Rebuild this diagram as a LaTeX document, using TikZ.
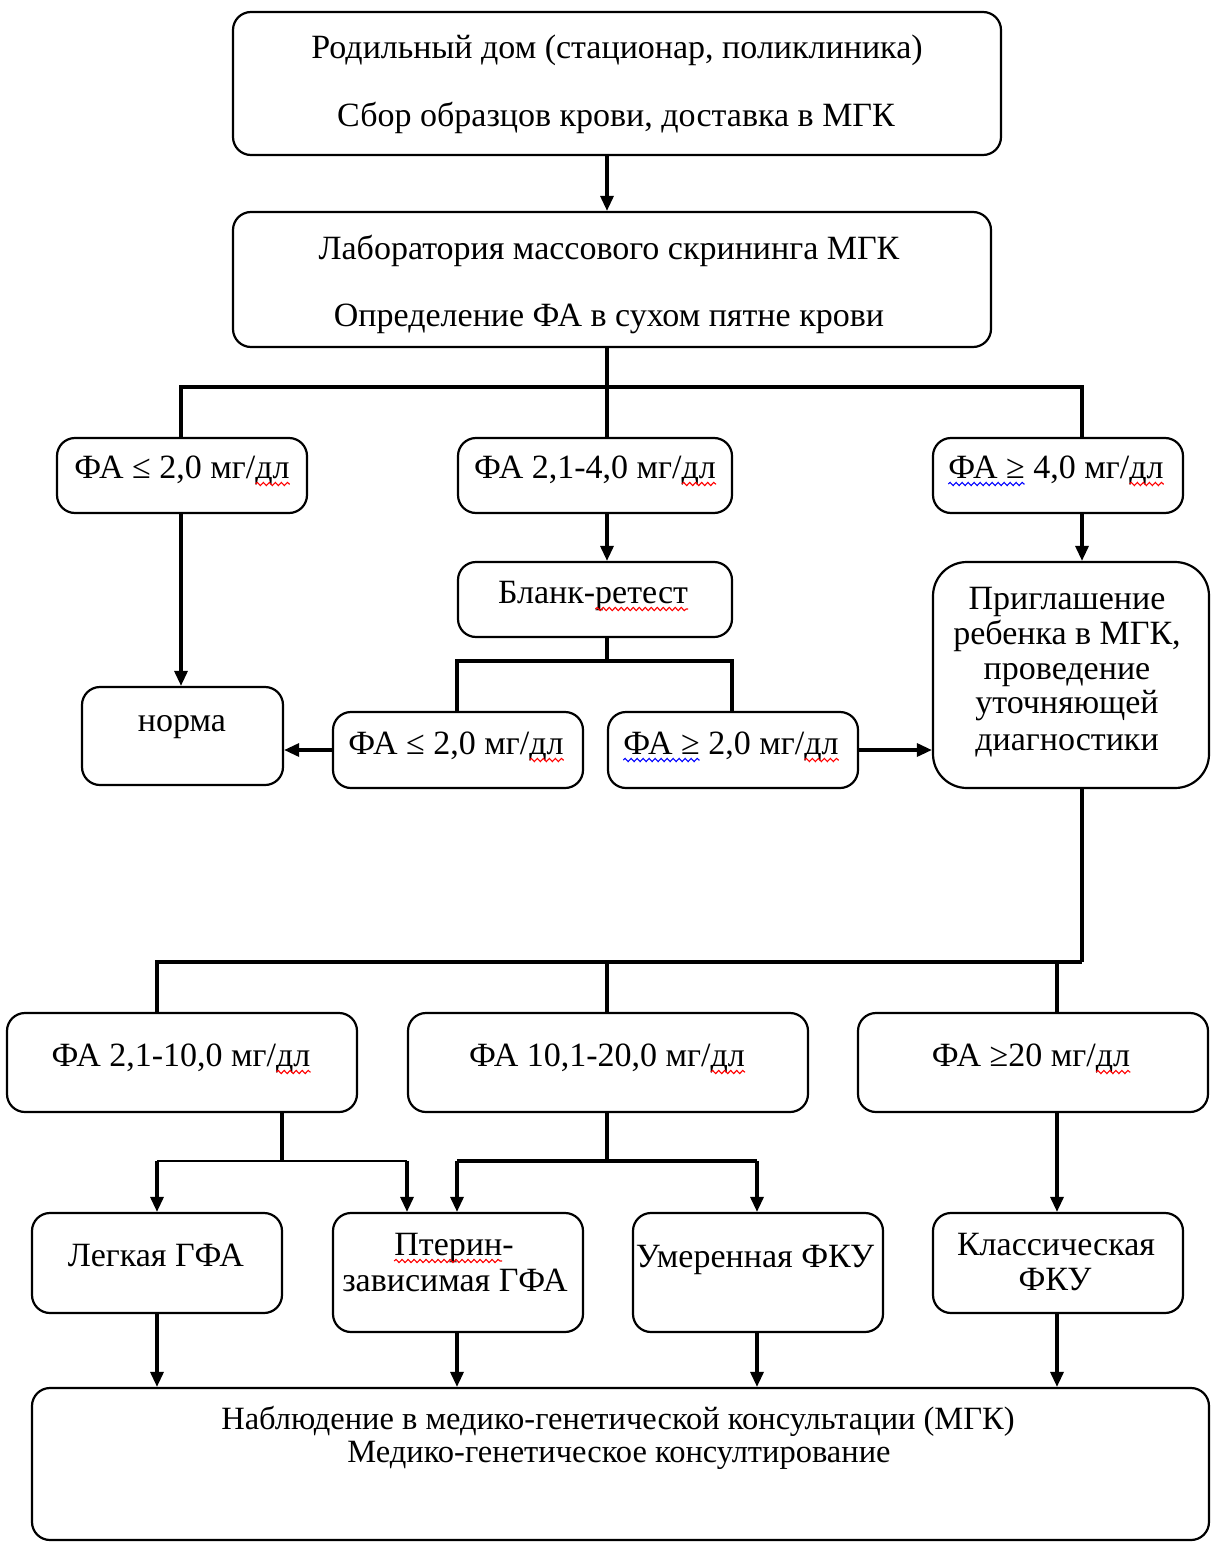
\documentclass[tikz,border=0pt]{standalone}
\usepackage{fontspec}
\setmainfont{Liberation Serif}
\usetikzlibrary{arrows.meta,decorations.pathmorphing}
\newcommand\txtfont{\fontsize{34}{35}\selectfont}
\newlength\wdl
\newlength\wret
\newlength\wpter
\newlength\wfa
\begin{document}
\settowidth\wdl{\txtfont дл}
\settowidth\wret{\txtfont ретест}
\settowidth\wpter{\txtfont Птерин}
\settowidth\wfa{\txtfont ФА ≥}
\begin{tikzpicture}[x=1pt,y=-1pt,
  box/.style={draw, line width=2.2pt, rounded corners=18pt, inner sep=0pt},
  bigbox/.style={box, rounded corners=34pt},
  txt/.style={font=\txtfont, inner sep=0pt, anchor=base},
  conn/.style={line width=3.2pt},
  thin/.style={line width=2.2pt},
  arr/.style={conn, -{Triangle[length=15pt,width=13pt]}},
  rw/.style={draw=red, line width=1.1pt, decorate, decoration={snake, segment length=6pt, amplitude=1.6pt}},
  bw/.style={rw, draw=blue}]
\useasboundingbox (0,0) rectangle (1219,1549);
\fill[white] (0,0) rectangle (1219,1549);

% boxes
\node[box, minimum width=768pt, minimum height=143pt] (b1) at (617,83.5) {};
\node[box, minimum width=758pt, minimum height=135pt] (b2) at (612,279.5) {};
\node[box, minimum width=250pt, minimum height=75pt] (b3a) at (182,475.5) {};
\node[box, minimum width=274pt, minimum height=75pt] (b3b) at (595,475.5) {};
\node[box, minimum width=250pt, minimum height=75pt] (b3c) at (1058,475.5) {};
\node[box, minimum width=201pt, minimum height=98pt] (norma) at (182.5,736) {};
\node[box, minimum width=274pt, minimum height=75pt] (blank) at (595,599.5) {};
\node[box, minimum width=250pt, minimum height=76pt] (low) at (458,750) {};
\node[box, minimum width=250pt, minimum height=76pt] (high) at (733,750) {};
\node[bigbox, minimum width=276pt, minimum height=226pt] (big) at (1071,675) {};
\node[box, minimum width=350pt, minimum height=99pt] (b4a) at (182,1062.5) {};
\node[box, minimum width=400pt, minimum height=99pt] (b4b) at (608,1062.5) {};
\node[box, minimum width=350pt, minimum height=99pt] (b4c) at (1033,1062.5) {};
\node[box, minimum width=250pt, minimum height=100pt] (b5a) at (157,1263) {};
\node[box, minimum width=250pt, minimum height=119pt] (b5b) at (458,1272.5) {};
\node[box, minimum width=250pt, minimum height=119pt] (b5c) at (758,1272.5) {};
\node[box, minimum width=250pt, minimum height=100pt] (b5d) at (1058,1263) {};
\node[box, minimum width=1177pt, minimum height=152pt] (fin) at (620.5,1464) {};

% texts
\node[txt] (t1a) at (617,59) {Родильный дом (стационар, поликлиника)};
\node[txt] (t1b) at (616,127) {Сбор образцов крови, доставка в МГК};
\node[txt] (t2a) at (609,259) {Лаборатория массового скрининга МГК};
\node[txt] (t2b) at (609,326) {Определение ФА в сухом пятне крови};
\node[txt] (t3a) at (182,478) {ФА ≤ 2,0 мг/дл};
\node[txt] (t3b) at (595,478) {ФА 2,1-4,0 мг/дл};
\node[txt] (t3c) at (1056,478) {ФА ≥ 4,0 мг/дл};
\node[txt] (tn) at (182,731) {норма};
\node[txt] (tbl) at (593,603) {Бланк-ретест};
\node[txt] (tlo) at (456,754) {ФА ≤ 2,0 мг/дл};
\node[txt] (thi) at (731,754) {ФА ≥ 2,0 мг/дл};
\node[txt] (tg1) at (1067,609) {Приглашение};
\node[txt] (tg2) at (1067,644) {ребенка в МГК,};
\node[txt] (tg3) at (1067,679) {проведение};
\node[txt] (tg4) at (1067,713) {уточняющей};
\node[txt] (tg5) at (1067,750) {диагностики};
\node[txt] (t4a) at (181,1066) {ФА 2,1-10,0 мг/дл};
\node[txt] (t4b) at (607,1066) {ФА 10,1-20,0 мг/дл};
\node[txt] (t4c) at (1031,1066) {ФА ≥20 мг/дл};
\node[txt] (t5a) at (156,1266) {Легкая ГФА};
\node[txt] (t5b1) at (454,1255) {Птерин-};
\node[txt] (t5b2) at (455,1291) {зависимая ГФА};
\node[txt] (t5c) at (755,1267) {Умеренная ФКУ};
\node[txt] (t5d1) at (1056,1255) {Классическая};
\node[txt] (t5d2) at (1055,1290) {ФКУ};
\node[txt, font=\fontsize{32.5}{35}\selectfont] (tf1) at (618,1429) {Наблюдение в медико-генетической консультации (МГК)};
\node[txt, font=\fontsize{32.5}{35}\selectfont] (tf2) at (619,1462) {Медико-генетическое консултирование};

% spell-check wavy underlines
\foreach \t in {t3a,t3b,t3c,tlo,thi,t4a,t4b,t4c}
  \draw[rw] ([xshift=-\wdl, yshift=-6pt]\t.base east) -- ([yshift=-6pt]\t.base east);
\foreach \t in {t3c,thi}
  \draw[bw] ([yshift=-6pt]\t.base west) -- ([xshift=\wfa, yshift=-6pt]\t.base west);
\draw[rw] ([xshift=-\wret, yshift=-6pt]tbl.base east) -- ([yshift=-6pt]tbl.base east);
\draw[rw] ([yshift=-6pt]t5b1.base west) -- ([xshift=\wpter, yshift=-6pt]t5b1.base west);

% junction coordinates
\coordinate (j2) at (607,387);
\coordinate (jb) at (607,661);
\coordinate (jg) at (1082,962);
\coordinate (j4a) at (282,1161);
\coordinate (j4b) at (607,1161);

% connectors
\draw[arr] (607,0 |- b1.south) -- (607,0 |- b2.north);
\draw[conn] (607,0 |- b2.south) -- (j2);
\draw[conn] (181,0 |- b3a.north) -- (181,387) -- (1082,387) -- (1082,0 |- b3c.north);
\draw[conn] (j2) -- (607,0 |- b3b.north);
\draw[arr] (181,0 |- b3a.south) -- (181,0 |- norma.north);
\draw[arr] (607,0 |- b3b.south) -- (607,0 |- blank.north);
\draw[conn] (607,0 |- blank.south) -- (jb);
\draw[conn] (457,0 |- low.north) -- (457,661) -- (732,661) -- (732,0 |- high.north);
\draw[arr] (low.west) -- (low.west -| norma.east);
\draw[arr] (high.east) -- (high.east -| big.west);
\draw[arr] (1082,0 |- b3c.south) -- (1082,0 |- big.north);
\draw[conn] (1082,0 |- big.south) -- (jg);
\draw[conn] (157,0 |- b4a.north) -- (157,962) -- (jg);
\draw[conn] (607,962) -- (607,0 |- b4b.north);
\draw[conn] (1057,962) -- (1057,0 |- b4c.north);
\draw[conn] (282,0 |- b4a.south) -- (j4a);
\draw[thin] (157,1161) -- (407,1161);
\draw[arr] (157,1161) -- (157,0 |- b5a.north);
\draw[arr] (407,1161) -- (407,0 |- b5b.north);
\draw[conn] (607,0 |- b4b.south) -- (j4b);
\draw[conn] (457,1161) -- (757,1161);
\draw[arr] (457,1161) -- (457,0 |- b5b.north);
\draw[arr] (757,1161) -- (757,0 |- b5c.north);
\draw[arr] (1057,0 |- b4c.south) -- (1057,0 |- b5d.north);
\draw[arr] (157,0 |- b5a.south) -- (157,0 |- fin.north);
\draw[arr] (457,0 |- b5b.south) -- (457,0 |- fin.north);
\draw[arr] (757,0 |- b5c.south) -- (757,0 |- fin.north);
\draw[arr] (1057,0 |- b5d.south) -- (1057,0 |- fin.north);
\end{tikzpicture}
\end{document}
